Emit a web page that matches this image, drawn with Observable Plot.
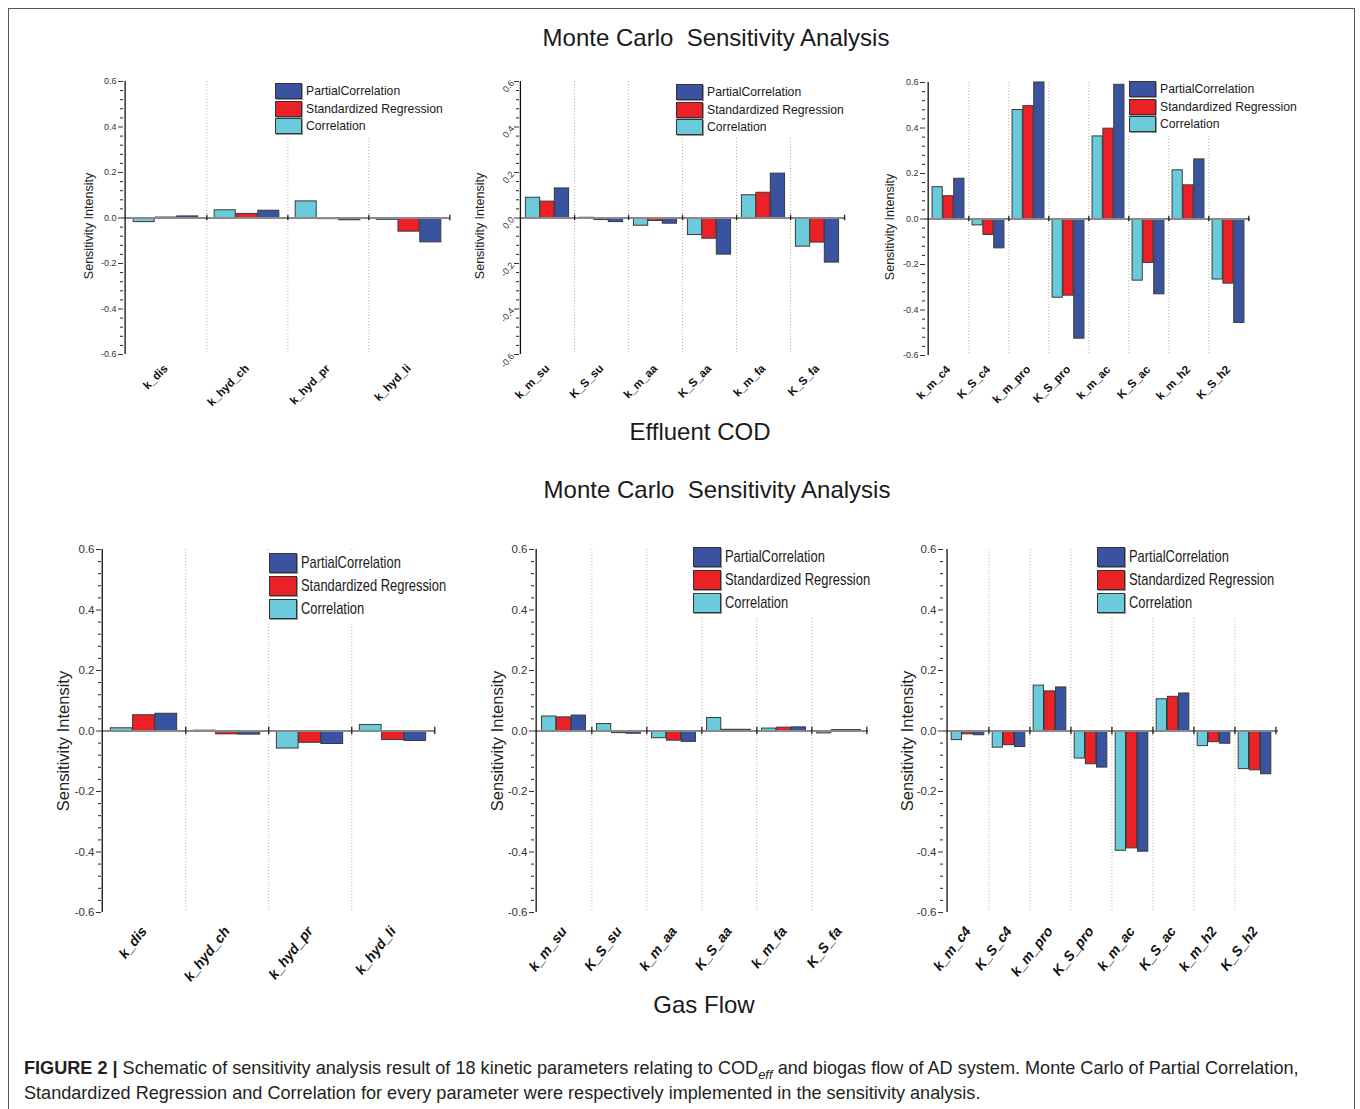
<!DOCTYPE html>
<html><head><meta charset="utf-8">
<script src="https://cdn.jsdelivr.net/npm/d3@7"></script>
<script src="https://cdn.jsdelivr.net/npm/@observablehq/plot@0.6"></script>
<style>
body{margin:0;background:#fff;}
#fig{position:relative;width:1360px;height:1109px;overflow:hidden;font-family:"Liberation Sans",Arial,sans-serif;background:#fff;}
.frameBorder{position:absolute;left:8px;top:8px;width:1347px;height:1120px;border:1px solid #555;box-sizing:border-box;}
.title{position:absolute;font-size:24px;line-height:28px;white-space:pre;color:#1a1a1a;transform:translateX(-50%);}
.panel{position:absolute;}
.legend{position:absolute;background:#fff;}
.lrow{position:absolute;display:flex;align-items:center;white-space:nowrap;color:#1a1a1a;}
.sw{border:1px solid #333;box-sizing:border-box;box-shadow:1px 1px 0 #999;flex:none;}
.lt{display:inline-block;transform-origin:left center;}
.caption{position:absolute;left:24px;top:1056px;font-size:18.1px;line-height:25px;color:#231f20;white-space:nowrap;}
</style></head><body><div id="fig"></div><script>
// ---- categories ----
const hydCats = ["k_dis","k_hyd_ch","k_hyd_pr","k_hyd_li"];
const upCats = ["k_m_su","K_S_su","k_m_aa","K_S_aa","k_m_fa","K_S_fa"];
const metCats = ["k_m_c4","K_S_c4","k_m_pro","K_S_pro","k_m_ac","K_S_ac","k_m_h2","K_S_h2"];
const seriesNames = ["Correlation","Standardized Regression","PartialCorrelation"];
const legendOrder = ["PartialCorrelation","Standardized Regression","Correlation"];
const yTicks = [-0.6,-0.4,-0.2,0,0.2,0.4,0.6];

// ---- Effluent COD values ----
const codHydCorr = [-0.018, 0.034, 0.073, -0.008];
const codHydSR   = [0.002, 0.018, -0.005, -0.060];
const codHydPC   = [0.007, 0.032, -0.010, -0.107];

const codUpCorr = [0.089, 0.001, -0.034, -0.075, 0.100, -0.126];
const codUpSR   = [0.072, -0.009, -0.013, -0.091, 0.111, -0.108];
const codUpPC   = [0.130, -0.018, -0.025, -0.161, 0.195, -0.196];

const codMetCorr = [0.140, -0.028, 0.479, -0.346, 0.363, -0.271, 0.214, -0.266];
const codMetSR   = [0.100, -0.070, 0.496, -0.337, 0.397, -0.193, 0.148, -0.284];
const codMetPC   = [0.177, -0.129, 0.600, -0.526, 0.590, -0.331, 0.262, -0.457];

// ---- Gas Flow values ----
const gasHydCorr = [0.009, 0.001, -0.058, 0.020];
const gasHydSR   = [0.052, -0.011, -0.039, -0.030];
const gasHydPC   = [0.057, -0.012, -0.043, -0.033];

const gasUpCorr = [0.048, 0.023, -0.024, 0.043, 0.008, -0.008];
const gasUpSR   = [0.045, -0.007, -0.032, 0.004, 0.011, 0.003];
const gasUpPC   = [0.051, -0.009, -0.036, 0.004, 0.012, 0.003];

const gasMetCorr = [-0.030, -0.055, 0.150, -0.091, -0.396, 0.105, -0.050, -0.126];
const gasMetSR   = [-0.011, -0.047, 0.131, -0.110, -0.388, 0.113, -0.037, -0.130];
const gasMetPC   = [-0.014, -0.053, 0.144, -0.121, -0.399, 0.124, -0.042, -0.143];

const colors = {"Correlation":"#6bcbda","Standardized Regression":"#ec2027","PartialCorrelation":"#3953a0"};

function table(cats, corr, sr, pc){
  return cats.flatMap((c,i)=>[
    {cat:c, series:"Correlation", value:corr[i]},
    {cat:c, series:"Standardized Regression", value:sr[i]},
    {cat:c, series:"PartialCorrelation", value:pc[i]}
  ]);
}

const fig = document.getElementById("fig");
const border = document.createElement("div"); border.className="frameBorder"; fig.appendChild(border);

function addTitle(text, cx, cy){
  const d = document.createElement("div"); d.className="title"; d.textContent=text;
  d.style.left = cx+"px"; d.style.top = (cy-14)+"px"; fig.appendChild(d);
}
addTitle("Monte Carlo  Sensitivity Analysis", 716, 38);
addTitle("Effluent COD", 700, 432);
addTitle("Monte Carlo  Sensitivity Analysis", 717, 490);
addTitle("Gas Flow", 704, 1005);

const minorTicks = d3.range(-15,16).map(k=>+(k*0.04).toFixed(2)).filter(v=>!yTicks.some(t=>Math.abs(t-v)<1e-9));

const topStyle = {tickFont:9, tickFamily:'"Liberation Sans",Arial,sans-serif', catFont:11.5, catStyle:"normal", catRot:-45, catPad:12, ylabFont:12.5, ylabDy:8};
const botStyle = {tickFont:11.5, tickFamily:'"Liberation Sans Narrow","Arial Narrow",sans-serif', catFont:14, catStyle:"italic", catRot:-52, catPad:16, ylabFont:16.5, ylabDy:10};

function drawPanel(p){
  const s = p.style;
  const n = p.cats.length;
  const bw = (p.width - p.ml - p.mr)/n;
  const pad = bw*0.1, w = bw*0.8/3;
  const data = table(p.cats, p.corr, p.sr, p.pc);
  const marks = [
    Plot.ruleX(p.cats.slice(0,-1), {x:d=>d, dx:bw/2, stroke:"#b0b0b0", strokeDasharray:"1,2", strokeWidth:1}),
    ...seriesNames.map((name,i)=>Plot.barY(data.filter(d=>d.series===name), {
      x:"cat", y1:0, y2:"value", fill:colors[name], stroke:"#3a3a3a", strokeWidth:1,
      insetLeft: pad + i*w, insetRight: bw - pad - (i+1)*w
    })),
    Plot.ruleY([0], {stroke:"#8a8a8a", strokeWidth:2}),
    Plot.ruleX(p.cats, {x:d=>d, dx:bw/2, y1:-0.012, y2:0.012, stroke:"#222", strokeWidth:1.3}),
    Plot.ruleX([p.cats[0]], {x:d=>d, dx:-bw/2, stroke:"#111", strokeWidth:1.3}),
    Plot.axisY(minorTicks, {tickSize:3, tickFormat:()=>"", label:null, color:"#222"}),
    Plot.axisY(yTicks, {tickSize:5, tickPadding:2, tickFormat:d=>d.toFixed(1), label:null, color:"#333",
      fontSize:s.tickFont, fontFamily:s.tickFamily, tickRotate:p.yRot || 0}),
    Plot.axisX({tickSize:0, tickPadding:s.catPad, tickRotate:s.catRot, label:null, fontWeight:"bold",
      fontStyle:s.catStyle, fontSize:s.catFont, color:"#111"}),
    Plot.text(["Sensitivity Intensity"], {text:d=>d, frameAnchor:"left", rotate:-90, dx:-p.lo, dy:s.ylabDy,
      fontSize:s.ylabFont, fill:"#222", textAnchor:"middle"})
  ];
  const svg = Plot.plot({
    width:p.width, height:p.height,
    marginLeft:p.ml, marginRight:p.mr, marginTop:p.mt, marginBottom:p.mb,
    x:{domain:p.cats, padding:0},
    y:{domain:[-0.6,0.6]},
    style:{fontFamily:'"Liberation Sans",Arial,sans-serif', background:"transparent", overflow:"visible"},
    marks
  });
  const holder = document.createElement("div"); holder.className="panel";
  holder.style.left=p.left+"px"; holder.style.top=p.top+"px";
  holder.appendChild(svg); fig.appendChild(holder);

  // legend
  const L = p.legend;
  const bg = document.createElement("div"); bg.className="legend";
  bg.style.left=(L.x-3)+"px"; bg.style.top=(L.y-3)+"px";
  bg.style.width=L.bgW+"px"; bg.style.height=(L.step*3+4)+"px";
  fig.appendChild(bg);
  legendOrder.forEach((name,i)=>{
    const row = document.createElement("div"); row.className="lrow";
    row.style.left=L.x+"px"; row.style.top=(L.y+i*L.step)+"px"; row.style.height=L.sh+"px";
    row.style.fontSize=L.fs+"px";
    const sw = document.createElement("div"); sw.className="sw";
    sw.style.width=L.sw+"px"; sw.style.height=L.sh+"px"; sw.style.background=colors[name];
    sw.style.marginRight=L.gap+"px";
    const t = document.createElement("span"); t.className="lt"; t.textContent=name;
    t.style.transform = `scaleX(${L.sx})`;
    row.appendChild(sw); row.appendChild(t); fig.appendChild(row);
  });
}

const topLeg = (x,y)=>({x, y, sw:27, sh:16, step:17.5, fs:12.2, gap:4, bgW:180, sx:1});
const botLeg = (x,y)=>({x, y, sw:28, sh:20, step:23, fs:17, gap:4, bgW:185, sx:0.76});

drawPanel({cats:hydCats, corr:codHydCorr, sr:codHydSR, pc:codHydPC, left:60, top:70, width:400, height:350, ml:63, mr:10, mt:11, mb:66, lo:35, style:topStyle, legend:topLeg(275,83)});
drawPanel({cats:upCats, corr:codUpCorr, sr:codUpSR, pc:codUpPC, left:460, top:70, width:400, height:350, ml:59, mr:16, mt:11, mb:66, lo:40, yRot:-50, style:topStyle, legend:topLeg(676,84)});
drawPanel({cats:metCats, corr:codMetCorr, sr:codMetSR, pc:codMetPC, left:866, top:70, width:400, height:350, ml:59, mr:16, mt:12, mb:65, lo:36, style:topStyle, legend:topLeg(1129,81)});
drawPanel({cats:hydCats, corr:gasHydCorr, sr:gasHydSR, pc:gasHydPC, left:40, top:535, width:410, height:470, ml:61, mr:15, mt:14, mb:93, lo:38, style:botStyle, legend:botLeg(269,553)});
drawPanel({cats:upCats, corr:gasUpCorr, sr:gasUpSR, pc:gasUpPC, left:470, top:535, width:410, height:470, ml:64, mr:12, mt:14, mb:93, lo:37, style:botStyle, legend:botLeg(693,547)});
drawPanel({cats:metCats, corr:gasMetCorr, sr:gasMetSR, pc:gasMetPC, left:880, top:535, width:410, height:470, ml:63, mr:12, mt:14, mb:93, lo:36, style:botStyle, legend:botLeg(1097,547)});

const cap = document.createElement("div"); cap.className="caption";
cap.innerHTML = '<b>FIGURE 2 |</b> Schematic of sensitivity analysis result of 18 kinetic parameters relating to COD<sub style="font-style:italic;font-size:13px;line-height:0">eff</sub> and biogas flow of AD system. Monte Carlo of Partial Correlation,<br>Standardized Regression and Correlation for every parameter were respectively implemented in the sensitivity analysis.';
fig.appendChild(cap);
</script></body></html>
